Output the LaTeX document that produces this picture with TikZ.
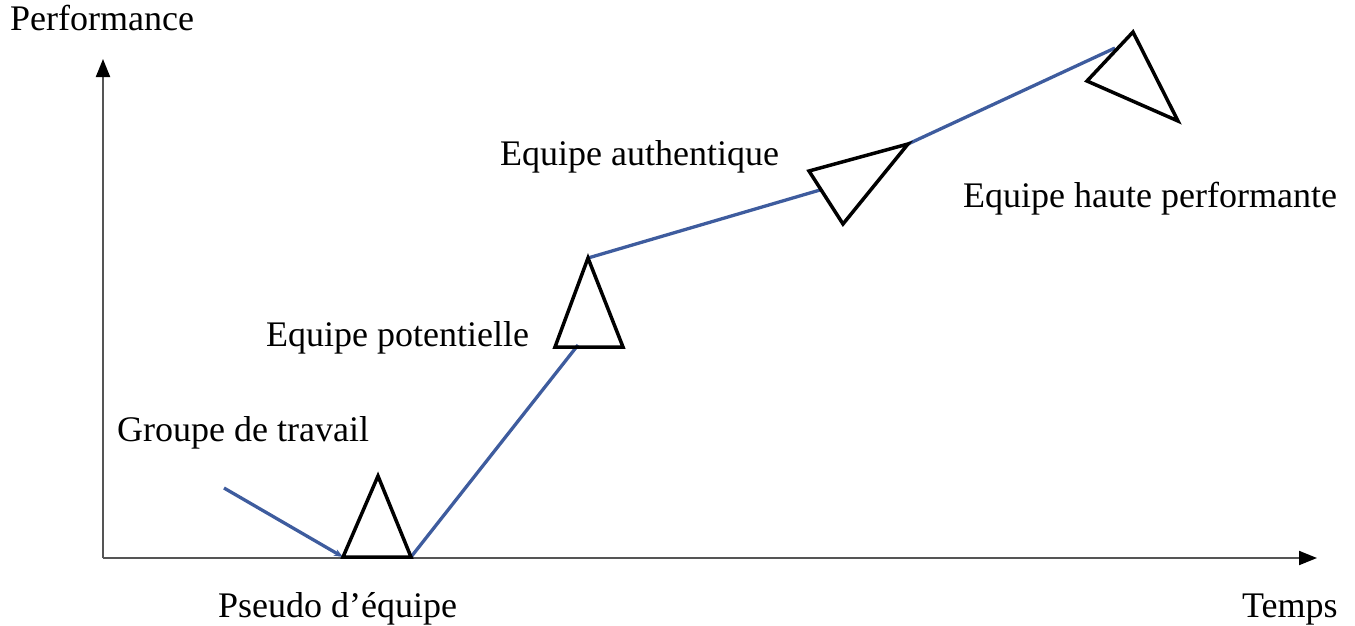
\documentclass[tikz,border=0pt]{standalone}
\usepackage{fontspec}
\setmainfont{Liberation Serif}
\usetikzlibrary{arrows.meta}
\definecolor{trendblue}{RGB}{62,92,158}
\definecolor{axisgray}{RGB}{85,85,85}
\begin{document}
\begin{tikzpicture}[x=1pt,y=-1pt,
  axisline/.style={draw=axisgray,line width=2pt,-{Triangle[length=18pt,width=14pt,color=black]}},
  trend/.style={draw=trendblue,line width=3.3pt},
  stage/.style={draw=black,line width=3.5pt,line join=miter},
  lbl/.style={anchor=base west,inner sep=0pt,font=\fontsize{36}{42}\selectfont}]
\useasboundingbox (0,0) rectangle (1355,625);

% axes
\coordinate (O) at (103,558);
\coordinate (Ytip) at (103,59);
\coordinate (Xtip) at (1317,558);
\draw[axisline] (O) -- (Ytip);
\draw[axisline] (O) -- (Xtip);

% stage triangles
\coordinate (t1a) at (378,476); \coordinate (t1b) at (343,557); \coordinate (t1c) at (411,557);
\coordinate (t2a) at (588,258); \coordinate (t2b) at (555,347); \coordinate (t2c) at (623,347);
\coordinate (t3a) at (809,171); \coordinate (t3b) at (908,144); \coordinate (t3c) at (843,224);
\coordinate (t4a) at (1133,32); \coordinate (t4b) at (1087,81); \coordinate (t4c) at (1178,121);

% performance curve
\coordinate (start) at (224,488);
\coordinate (in2) at (578,345);
\coordinate (in3) at (820,190);
\coordinate (in4) at (1115,48);
\draw[trend,-{Stealth[length=9pt,width=7pt]}] (start) -- (t1b);
\draw[trend] (t1c) -- (in2);
\draw[trend] (t2a) -- (in3);
\draw[trend] (t3b) -- (in4);

\draw[stage] (t1a) -- (t1b) -- (t1c) -- cycle;
\draw[stage] (t2a) -- (t2b) -- (t2c) -- cycle;
\draw[stage] (t3a) -- (t3b) -- (t3c) -- cycle;
\draw[stage] (t4a) -- (t4b) -- (t4c) -- cycle;

% labels
\node[lbl] (perf) at (10,30) {Performance};
\node[lbl] (temps) at (1242,617) {Temps};
\node[lbl] (groupe) at (117,441) {Groupe de travail};
\node[lbl] (pseudo) at (218,617) {Pseudo d’équipe};
\node[lbl] (pot) at (266,346) {Equipe potentielle};
\node[lbl] (auth) at (500,165) {Equipe authentique};
\node[lbl] (haute) at (963,207) {Equipe haute performante};
\end{tikzpicture}
\end{document}
